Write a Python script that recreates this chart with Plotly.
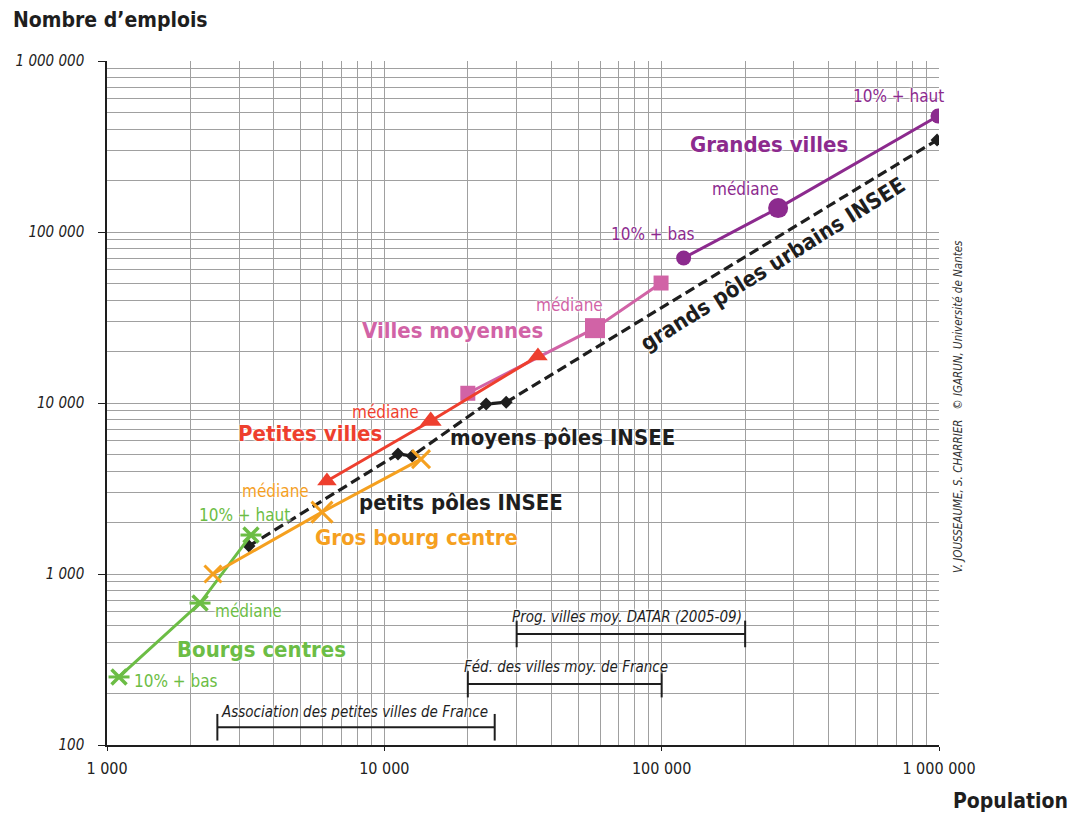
import plotly.graph_objects as go

# ---------------- data ----------------
bourgs_pop = [1105, 2165, 3305]
bourgs_emp = [250, 676, 1690]

gros_bourg_pop = [2410, 5960, 13560]
gros_bourg_emp = [1000, 2300, 4700]

petites_pop = [6210, 14700, 35800]
petites_emp = [3500, 7850, 18800]

moyennes_pop = [20000, 57500, 99500]
moyennes_emp = [11400, 27400, 50300]

grandes_pop = [120000, 263000, 992000]
grandes_emp = [70500, 138000, 477000]

insee_pop = [3250, 11200, 12600, 23300, 27500, 984000]
insee_emp = [1460, 5030, 4900, 9870, 10100, 345000]

# population ranges of networks
datar_pop = [30000, 200000]
datar_emp = [446, 446]
fed_pop = [20000, 100000]
fed_emp = [227, 227]
apvf_pop = [2500, 25000]
apvf_emp = [127, 127]

x_tickvals = [1000, 10000, 100000, 1000000]
x_ticktext = ["1 000", "10 000", "100 000", "1 000 000"]
y_tickvals = [100, 1000, 10000, 100000, 1000000]
y_ticktext = ["100", "1 000", "10 000", "100 000", "1 000 000"]

# ---------------- style ----------------
GREEN = "#6cbd45"
ORANGE = "#f5a01f"
RED = "#ee3f2e"
PINK = "#d163a6"
PURPLE = "#8c2a8e"
BLACK = "#1e1e1e"
GRID = "#a0a0a0"
FONT = "Liberation Sans Narrow, DejaVu Sans Condensed, Roboto, sans-serif"
HALO = "0px 0px 2px white, 0px 0px 3px white, 0px 0px 3px white"

# page offset (browser body margin)
OFF = 8
W, H = 1080 - OFF, 814 - OFF

fig = go.Figure()

# INSEE dashed line
fig.add_trace(go.Scatter(x=insee_pop, y=insee_emp, mode="lines+markers",
                         line=dict(color=BLACK, width=3.2, dash="10px,5px"),
                         marker=dict(symbol="diamond", size=10, color=BLACK, opacity=1),
                         hoverinfo="skip"))

# Bourgs centres (green)
fig.add_trace(go.Scatter(x=bourgs_pop, y=bourgs_emp, mode="lines",
                         line=dict(color=GREEN, width=3), hoverinfo="skip"))
fig.add_trace(go.Scatter(x=bourgs_pop, y=bourgs_emp, mode="markers",
                         marker=dict(symbol="x-thin", size=15, opacity=1,
                                     line=dict(color=GREEN, width=3.5)),
                         hoverinfo="skip"))
fig.add_trace(go.Scatter(x=bourgs_pop, y=bourgs_emp, mode="markers",
                         marker=dict(symbol="line-ew", size=15, opacity=1,
                                     line=dict(color=GREEN, width=3)),
                         hoverinfo="skip"))

# Gros bourg centre (orange)
fig.add_trace(go.Scatter(x=gros_bourg_pop, y=gros_bourg_emp, mode="lines",
                         line=dict(color=ORANGE, width=3), hoverinfo="skip"))
fig.add_trace(go.Scatter(x=gros_bourg_pop, y=gros_bourg_emp, mode="markers",
                         marker=dict(symbol="x-thin", size=[17, 21, 18], opacity=1,
                                     line=dict(color=ORANGE, width=3)),
                         hoverinfo="skip"))

# Villes moyennes (pink)
fig.add_trace(go.Scatter(x=moyennes_pop, y=moyennes_emp, mode="lines+markers",
                         line=dict(color=PINK, width=3),
                         marker=dict(symbol="square", size=[15, 20, 15], color=PINK,
                                     opacity=1, line=dict(width=0)),
                         hoverinfo="skip"))

# Petites villes (red)
fig.add_trace(go.Scatter(x=petites_pop, y=petites_emp, mode="lines+markers",
                         line=dict(color=RED, width=3),
                         marker=dict(symbol="triangle-up", size=[17, 19, 17], color=RED,
                                     opacity=1, line=dict(width=0)),
                         hoverinfo="skip"))

# Grandes villes (purple)
fig.add_trace(go.Scatter(x=grandes_pop, y=grandes_emp, mode="lines+markers",
                         line=dict(color=PURPLE, width=3),
                         marker=dict(symbol="circle", size=[15, 20, 15], color=PURPLE,
                                     opacity=1, line=dict(width=0)),
                         hoverinfo="skip"))

# range bars
for rp, re in [(datar_pop, datar_emp), (fed_pop, fed_emp), (apvf_pop, apvf_emp)]:
    fig.add_trace(go.Scatter(x=rp, y=re, mode="lines+markers",
                             line=dict(color=BLACK, width=2),
                             marker=dict(symbol="line-ns", size=19,
                                         line=dict(color=BLACK, width=2)),
                             hoverinfo="skip"))

# ---------------- labels ----------------
# plot area, in screenshot pixels
L, R, T, B = 107, 939, 61, 745


def px(x):
    return (x - L) / (R - L)


def py(y):
    return (B - y) / (B - T)


def label(text, x, y, color, size=17, bold=False, italic=False, angle=0,
          xanchor="center", halo=True):
    fig.add_annotation(text=text, x=px(x), y=py(y), xref="paper", yref="paper",
                       showarrow=False, textangle=angle, xanchor=xanchor,
                       yanchor="middle",
                       font=dict(family=FONT, size=size, color=color,
                                 weight="bold" if bold else "normal",
                                 style="italic" if italic else "normal",
                                 shadow=HALO if halo else "none"))


label("Grandes villes", 769, 144, PURPLE, 22, True)
label("10% + haut", 898, 96, PURPLE, 17)
label("médiane", 745, 189, PURPLE, 17)
label("10% + bas", 653, 234, PURPLE, 17)
label("Villes moyennes", 452, 330, PINK, 22, True)
label("médiane", 569, 305, PINK, 17)
label("Petites villes", 310, 433, RED, 22, True)
label("médiane", 385, 412, RED, 17)
label("moyens pôles INSEE", 562, 437, BLACK, 22, True)
label("petits pôles INSEE", 461, 503, BLACK, 22, True)
label("Gros bourg centre", 416, 537, ORANGE, 22, True)
label("médiane", 275, 491, ORANGE, 17)
label("10% + haut", 244, 515, GREEN, 17)
label("médiane", 248, 611, GREEN, 17)
label("Bourgs centres", 261, 649, GREEN, 22, True)
label("10% + bas", 176, 681, GREEN, 17)
label("grands pôles urbains INSEE", 772, 264, BLACK, 22, True, angle=-32)
label("Prog. villes moy. DATAR (2005-09)", 627, 617, BLACK, 15, italic=True)
label("Féd. des villes moy. de France", 566, 667, BLACK, 15, italic=True)
label("Association des petites villes de France", 354, 712, BLACK, 15, italic=True)
label("V. JOUSSEAUME, S. CHARRIER   © IGARUN, Université de Nantes", 958, 407,
      "#333333", 11.5, italic=True, angle=-90, halo=False)
label("Nombre d’emplois", 11, 20, BLACK, 21, True, xanchor="left", halo=False)
label("Population", 1070, 801, BLACK, 21, True, xanchor="right", halo=False)

# ---------------- axes ----------------
minor_x = [m * 10 ** d for d in range(3, 6) for m in range(2, 10)]
minor_y = [m * 10 ** d for d in range(2, 6) for m in range(2, 10)]

fig.update_xaxes(type="log", range=[3, 6], tickvals=x_tickvals, ticktext=x_ticktext,
                 showgrid=True, gridcolor=GRID, gridwidth=1,
                 minor=dict(tickvals=minor_x, showgrid=True, gridcolor=GRID,
                            gridwidth=1, ticks=""),
                 showline=True, linecolor=BLACK, linewidth=1.5, mirror=False,
                 ticks="outside", ticklen=4, tickcolor=BLACK, ticklabelstandoff=4,
                 tickfont=dict(family=FONT, size=16, color="#222222"),
                 zeroline=False, fixedrange=True, automargin=False)
fig.update_yaxes(type="log", range=[2, 6], tickvals=y_tickvals, ticktext=y_ticktext,
                 showgrid=True, gridcolor=GRID, gridwidth=1,
                 minor=dict(tickvals=minor_y, showgrid=True, gridcolor=GRID,
                            gridwidth=1, ticks=""),
                 showline=True, linecolor=BLACK, linewidth=1.5, mirror=False,
                 ticks="outside", ticklen=7, tickcolor=BLACK, ticklabelstandoff=11,
                 tickfont=dict(family=FONT, size=15, color="#222222", style="italic"),
                 zeroline=False, fixedrange=True, automargin=False)

fig.update_layout(width=W, height=H, showlegend=False,
                  margin=dict(l=L - OFF, r=1080 - R, t=T - OFF, b=814 - B,
                              autoexpand=False),
                  paper_bgcolor="white", plot_bgcolor="white",
                  font=dict(family=FONT))

fig.write_html("out.html", config={"displayModeBar": False})
